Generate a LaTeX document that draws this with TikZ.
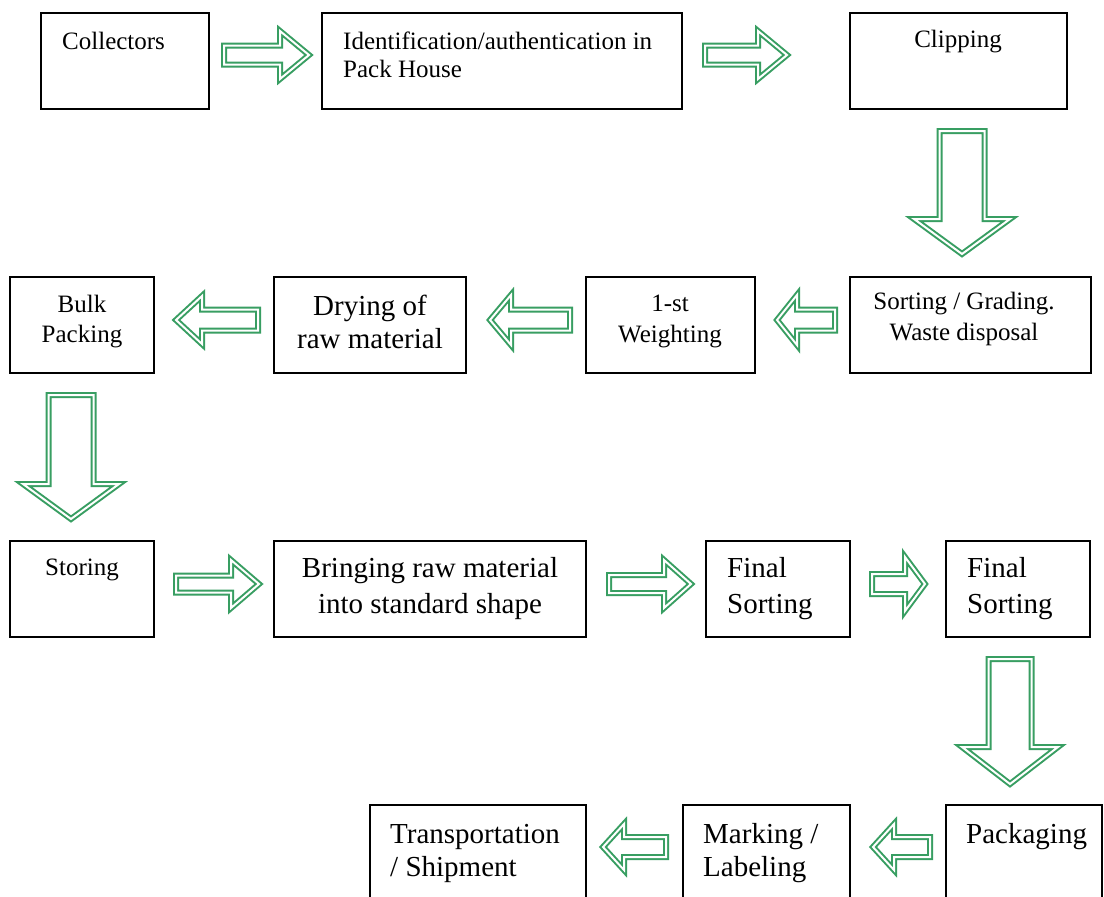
\documentclass[tikz,border=0pt]{standalone}
\usepackage{fontspec}
\setmainfont{Liberation Serif}
\definecolor{agreen}{RGB}{56,158,98}
\tikzset{
 box/.style={draw=black, line width=1.5pt, inner sep=0pt, outer sep=0pt, anchor=north west},
 blk/.style={draw=agreen, double=white, double distance=2pt, line width=2pt, miter limit=10},
 sm/.style={font=\fontsize{25}{30}\selectfont, inner sep=0pt, align=center, anchor=base},
 lg/.style={font=\fontsize{29}{35}\selectfont, inner sep=0pt, align=center, anchor=base},
 lgl/.style={font=\fontsize{29}{35}\selectfont, inner sep=0pt, align=left, anchor=base west},
 sml/.style={font=\fontsize{25}{28}\selectfont, inner sep=0pt, align=left, anchor=base west},
}
% tail x, tail y, angle, length, shaft half, head half, head length
\newcommand{\blockarrow}[7]{%
 \draw[blk, shift={(#1,#2)}, rotate=#3] (0,#5) -- ({#4-#7},#5) -- ({#4-#7},#6) -- (#4,0) -- ({#4-#7},-#6) -- ({#4-#7},-#5) -- (0,-#5) -- cycle;}
\begin{document}
\begin{tikzpicture}[x=1pt,y=-1pt]
\clip (0,0) rectangle (1104,897);
\fill[white] (0,0) rectangle (1104,897);
% row 1
\node[box, minimum width=168, minimum height=96] (b1) at (41,13) {};
\node[box, minimum width=360, minimum height=96] (b2) at (322,13) {};
\node[box, minimum width=217, minimum height=96] (b3) at (850,13) {};
\node[sml] (t1) at (62,49) {Collectors};
\node[sml] (t2) at (343,77) {Identification/authentication in\\Pack House};
\node[sm] (t3) at (958,47) {Clipping};
% row 2
\node[box, minimum width=241, minimum height=96] (b4) at (850,277) {};
\node[box, minimum width=169, minimum height=96] (b5) at (586,277) {};
\node[box, minimum width=192, minimum height=96] (b6) at (274,277) {};
\node[box, minimum width=144, minimum height=96] (b7) at (10,277) {};
\node[sm, font=\fontsize{25}{31}\selectfont] (t4) at (964,340) {Sorting / Grading.\\Waste disposal};
\node[sm, font=\fontsize{25}{31}\selectfont] (t5) at (670,342) {1-st\\Weighting};
\node[lg, font=\fontsize{29}{33}\selectfont] (t6) at (370,348) {Drying of\\raw material};
\node[sm] (t7) at (82,342) {Bulk\\Packing};
% row 3
\node[box, minimum width=144, minimum height=96] (b8) at (10,541) {};
\node[box, minimum width=312, minimum height=96] (b9) at (274,541) {};
\node[box, minimum width=144, minimum height=96] (b10) at (706,541) {};
\node[box, minimum width=144, minimum height=96] (b11) at (946,541) {};
\node[sm] (t8) at (82,575) {Storing};
\node[lg, font=\fontsize{29}{36}\selectfont] (t9) at (430,613) {Bringing raw material\\into standard shape};
\node[lgl, font=\fontsize{29}{36}\selectfont] (t10) at (727,613) {Final\\Sorting};
\node[lgl, font=\fontsize{29}{36}\selectfont] (t11) at (967,613) {Final\\Sorting};
% row 4
\node[box, minimum width=156, minimum height=110] (b12) at (946,805) {};
\node[box, minimum width=167, minimum height=110] (b13) at (683,805) {};
\node[box, minimum width=216, minimum height=110] (b14) at (370,805) {};
\node[lgl, font=\fontsize{29}{33}\selectfont] (t12) at (966,843) {Packaging};
\node[lgl, font=\fontsize{29}{33}\selectfont] (t13) at (703,876) {Marking /\\Labeling};
\node[lgl, font=\fontsize{29}{33}\selectfont] (t14) at (390,876) {Transportation\\/ Shipment};
% arrows
\blockarrow{224}{55}{0}{85}{9.5}{24}{29}
\blockarrow{705}{55}{0}{82}{9.5}{24}{29}
\blockarrow{962}{131}{-90}{123}{22.5}{48}{35}
\blockarrow{835}{320}{180}{58}{10.5}{25}{20}
\blockarrow{570}{320}{180}{80}{10.5}{25}{21}
\blockarrow{258}{320}{180}{82}{10.5}{24}{26}
\blockarrow{71}{395}{-90}{124}{22.5}{48}{35}
\blockarrow{176}{584}{0}{83}{8.5}{24}{28}
\blockarrow{609}{584}{0}{82}{9}{24}{27}
\blockarrow{872}{584}{0}{53}{10}{27}{20}
\blockarrow{1010}{659}{-90}{125}{21.5}{48}{37}
\blockarrow{930}{847}{180}{57}{10}{23}{21}
\blockarrow{666}{847}{180}{63}{10}{23}{21}
\end{tikzpicture}
\end{document}
